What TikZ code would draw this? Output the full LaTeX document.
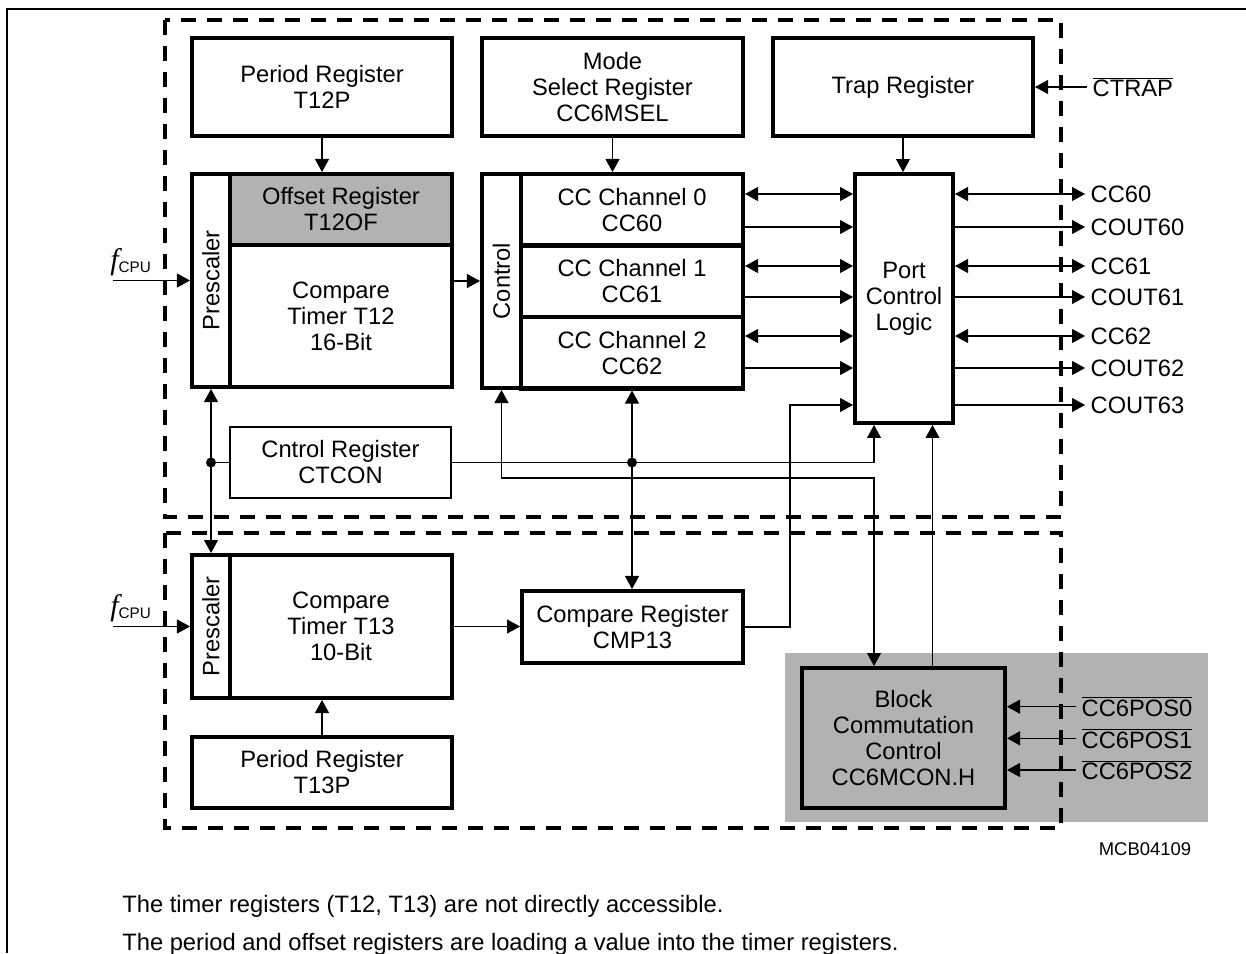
\documentclass[tikz,border=0pt]{standalone}
\usepackage{fontspec}
\setmainfont{Liberation Sans}
\newfontfamily\serifit{Liberation Serif}
\usetikzlibrary{arrows.meta, positioning}

\newcommand{\fcpu}{{\serifit\itshape\fontsize{17}{17}\selectfont f}\raisebox{-2pt}{\fontsize{8.7}{9}\selectfont CPU}}
\newcommand{\inv}[1]{$\overline{\mbox{#1}}$}

\begin{document}
\begin{tikzpicture}[x=0.02cm, y=-0.02cm,
    font=\fontsize{13.5}{14.8}\selectfont,
    box/.style={draw, line width=2.3pt, align=center, inner sep=0pt},
    thinbox/.style={draw, line width=1.5pt, align=center, inner sep=0pt},
    greybox/.style={fill=black!30},
    area/.style={line width=2.3pt, dash pattern=on 0.3cm off 0.22cm},
    conn/.style={line width=0.6pt, >={Triangle[length=0.26cm, width=0.28cm]}},
    sig/.style={anchor=west, inner sep=3pt},
    junction/.style={circle, fill, inner sep=0pt, minimum size=0.2cm}
  ]
  \useasboundingbox (0,0) rectangle (1246,953);

  % Page frame
  \draw[line width=0.6pt] (1246,9) -- (7,9) -- (7,953);

  % Shaded area behind the commutation block
  \fill[black!30] (785,653) rectangle (1208,822);

  % Dashed areas
  \draw[area] (165,20) rectangle (1061,517);
  \draw[area] (165,533) rectangle (1061,828);

  % Top registers
  \node[box, minimum width=5.2cm, minimum height=1.96cm] (t12p) at (322,87) {Period Register\\T12P};
  \node[box, minimum width=5.22cm, minimum height=1.96cm] (msel) at (612.5,87) {Mode\\Select Register\\CC6MSEL};
  \node[box, minimum width=5.2cm, minimum height=1.96cm] (trap) at (903,87) {Trap Register};

  % Timer T12
  \node[box, minimum width=0.76cm, minimum height=4.26cm] (presc1) at (211,280.5) {\rotatebox{90}{Prescaler}};
  \node[box, greybox, minimum width=4.44cm, minimum height=1.42cm] (off) at (341,209.5) {Offset Register\\T12OF};
  \node[box, minimum width=4.44cm, minimum height=2.84cm] (t12) at (341,316) {Compare\\Timer T12\\16-Bit};

  % Capture/compare channels
  \node[box, minimum width=0.78cm, minimum height=4.28cm] (ctl) at (501.5,281) {\rotatebox{90}{Control}};
  \node[box, minimum width=4.44cm, minimum height=1.43cm] (ch0) at (632,209.75) {CC Channel 0\\CC60};
  \node[box, minimum width=4.44cm, minimum height=1.43cm] (ch1) at (632,281.25) {CC Channel 1\\CC61};
  \node[box, minimum width=4.44cm, minimum height=1.43cm] (ch2) at (632,352.75) {CC Channel 2\\CC62};
  \node[box, minimum width=1.96cm, minimum height=4.98cm] (port) at (904,298.5) {Port\\Control\\Logic};
  \node[thinbox, minimum width=4.42cm, minimum height=1.42cm] (ctcon) at (340.5,462.5) {Cntrol Register\\CTCON};

  % Timer T13
  \node[box, minimum width=0.76cm, minimum height=2.86cm] (presc2) at (211,626.5) {\rotatebox{90}{Prescaler}};
  \node[box, minimum width=4.44cm, minimum height=2.86cm] (t13) at (341,626.5) {Compare\\Timer T13\\10-Bit};
  \node[box, minimum width=4.42cm, minimum height=1.44cm] (cmp13) at (632.5,627) {Compare Register\\CMP13};
  \node[box, minimum width=5.2cm, minimum height=1.42cm] (t13p) at (322,772.5) {Period Register\\T13P};
  \node[box, greybox, minimum width=4.06cm, minimum height=2.8cm] (bcc) at (903.5,738) {Block\\Commutation\\Control\\CC6MCON.H};

  % Register arrows
  \draw[conn,->] (t12p.south) -- (t12p.south |- off.north);
  \draw[conn,->] (msel.south) -- (msel.south |- ch0.north);
  \draw[conn,->] (trap.south) -- (trap.south |- port.north);
  \draw[conn,->] (ctl.west -| t12.east) -- (ctl.west);
  \draw[conn,->] (t13p.north) -- (t13p.north |- t13.south);
  \draw[conn,->] (t13.east) -- (t13.east -| cmp13.west);
  \draw[conn,<->] (presc1.south) -- (presc2.north);
  \draw[conn,<->] (ch2.south) -- (ch2.south |- cmp13.north);

  % CTCON taps
  \node[junction] (d1) at (presc1.south |- ctcon.west) {};
  \node[junction] (d2) at (ch2.south |- ctcon.east) {};
  \draw[conn] (d1) -- (ctcon.west);
  \coordinate (pa) at ([xshift=-0.6cm]port.south);
  \coordinate (pb) at ([xshift=0.57cm]port.south);
  \draw[conn,->] (ctcon.east) -| (pa);
  \draw[conn,<->] (ctl.south) |- (pa |- 0,478) -- (pa |- bcc.north);
  \draw[conn,->] (pb |- bcc.north) -- (pb);
  \draw[conn,->] (cmp13.east) -| (790,405) -- (port.west |- 0,405);

  % Clock inputs
  \node[anchor=base west, inner sep=0pt] (f1) at (110,269) {\fcpu};
  \node[anchor=base west, inner sep=0pt] (f2) at (110,615) {\fcpu};
  \coordinate (clk1) at (113,280.5);
  \coordinate (clk2) at (113,626.5);
  \draw[conn,->] (clk1) -- (presc1.west);
  \draw[conn,->] (clk2) -- (presc2.west);

  % Trap input
  \node[sig] (ctrap) at (1087,87) {\inv{CTRAP}};
  \draw[conn,->] (ctrap.west) -- (trap.east);

  % Channel lines
  \foreach \y/\tip in {194/<->, 227/->, 266/<->, 297/->, 336/<->, 368/->}
    \draw[conn,\tip] (ch0.east |- 0,\y) -- (port.west |- 0,\y);
  \foreach \y/\lbl/\tip in {194/CC60/<->, 227/COUT60/->, 266/CC61/<->, 297/COUT61/->, 336/CC62/<->, 368/COUT62/->, 405/COUT63/->} {
    \node[sig] (\lbl) at (1085,\y) {\lbl};
    \draw[conn,\tip] (port.east |- \lbl.west) -- (\lbl.west);
  }

  % Position inputs
  \foreach \n/\y in {0/706.7, 1/738.3, 2/770} {
    \node[sig] (pos\n) at (1076,\y) {\inv{CC6POS\n}};
    \draw[conn,->] (pos\n.west) -- (bcc.east |- pos\n.west);
  }

  % Notes
  \node[font=\fontsize{10.5}{12}\selectfont] (mcb) at (1145,849) {MCB04109};
  \node[anchor=base west, inner sep=0pt] (note1) at (122,912) {The timer registers (T12, T13) are not directly accessible.};
  \node[anchor=base west, inner sep=0pt] (note2) at (122,950) {The period and offset registers are loading a value into the timer registers.};
\end{tikzpicture}
\end{document}
